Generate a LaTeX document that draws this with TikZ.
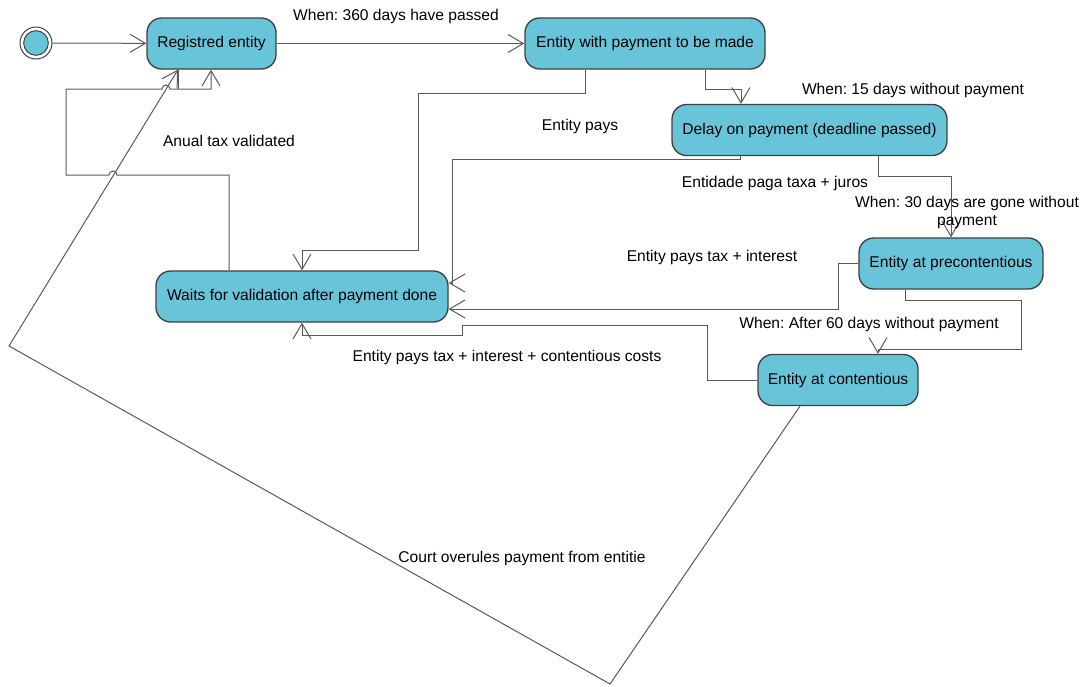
\documentclass[tikz,border=0pt]{standalone}
\usepackage{fontspec}
\setmainfont{Liberation Sans}
\usetikzlibrary{arrows.meta}
\frenchspacing

\definecolor{statefill}{RGB}{104,196,217}
\definecolor{edgegray}{RGB}{90,90,90}
\definecolor{bordergray}{RGB}{64,64,64}

\begin{document}
\begin{tikzpicture}[x=0.75pt,y=-0.75pt,
    font=\fontsize{11.7}{13.5}\selectfont,
    state/.style={draw=bordergray,line width=1pt,fill=statefill,rounded corners=11pt,
                  minimum height=38.25pt,inner sep=0pt},
    trans/.style={draw=edgegray,line width=0.75pt,-{Straight Barb[length=11.5pt,width=13.5pt]}},
    lbl/.style={inner sep=0pt,align=center}]
    \useasboundingbox (0,0) rectangle (1089,686);

    % start marker
    \node[circle,draw=bordergray,line width=0.75pt,minimum size=24pt,inner sep=0pt] (s0) at (36,43) {};
    \node[circle,draw=bordergray,line width=0.75pt,fill=statefill,minimum size=18.5pt,inner sep=0pt] (s0in) at (s0) {};

    % states
    \node[state,minimum width=96.75pt]  (s1) at (211.5,43.5) {Registred entity};
    \node[state,minimum width=180pt]    (s2) at (645,43.5)   {Entity with payment to be made};
    \node[state,minimum width=206.25pt] (s3) at (809.5,130)  {Delay on payment (deadline passed)};
    \node[state,minimum width=138pt]    (s4) at (951,263.5)  {Entity at precontentious};
    \node[state,minimum width=120pt]    (s5) at (838,380)    {Entity at contentious};
    \node[state,minimum width=219pt]    (s6) at (302,296.5)  {Waits for validation after payment done};

    % transitions
    \draw[trans] (s0) -- (s1);
    \draw[trans] (s1) -- (s2)
        node[lbl] at (396,16) {When: 360 days have passed};
    \draw[trans] (s2.south -| 705,0) |- (741,89) -- (s3.north -| 741,0)
        node[lbl] at (913,90) {When: 15 days without payment};
    \draw[trans] (s2.south -| 585,0) |- (418,93) |- (302,250) -- (s6.north)
        node[lbl] at (580,126) {Entity pays};
    \draw[trans] (s3.south -| 740,0) |- (452,159) |- (s6.east |- 0,283)
        node[lbl] at (775,183) {Entidade paga taxa + juros};
    \draw[trans] (s3.south -| 878,0) |- (951,176) -- (s4.north)
        node[lbl] at (967,212) {When: 30 days are gone without\\payment};
    \draw[trans] (s4.west) -| (838,309) -- (s6.east |- 0,309)
        node[lbl] at (712,257) {Entity pays tax + interest};
    \draw[trans] (s4.south -| 905,0) |- (1021,300) |- (878,349) -- (s5.north -| 878,0)
        node[lbl] at (869,324) {When: After 60 days without payment};
    \draw[trans] (s5.west) -| (707,325) -| (462,335) -| (s6.south)
        node[lbl] at (507,357) {Entity pays tax + interest + contentious costs};
    \draw[trans] (s6.north -| 229,0) |- (117,175) arc[start angle=0,end angle=180,radius=3pt]
        -| (66,89) -- (162,89) arc[start angle=180,end angle=0,radius=3pt] -| (s1.south -| 211,0)
        node[lbl] at (229,141) {Anual tax validated};
    \draw[draw=edgegray,line width=0.75pt] (178,89) -- (s1.south -| 178,0);
    \draw[trans] (s5.south -| 800,0) -- (610,684) -- (9,346) -- (s1.south -| 178,0)
        node[lbl] at (522,558) {Court overules payment from entitie};
\end{tikzpicture}
\end{document}
